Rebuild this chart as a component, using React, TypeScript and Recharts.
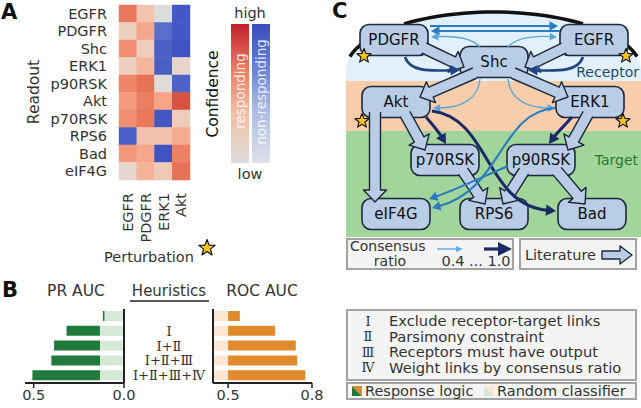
import React from "react";
import { ScatterChart, Scatter, XAxis, YAxis, BarChart, Bar, ReferenceArea } from "recharts";

const FONT = "DejaVu Sans, sans-serif";
const INK = "#333";

// ---------- A: confidence heatmap ----------
const readouts = ["EGFR", "PDGFR", "Shc", "ERK1", "p90RSK", "Akt", "p70RSK", "RPS6", "Bad", "eIF4G"];
const perturbations = ["EGFR", "PDGFR", "ERK1", "Akt"];
// signed confidence per perturbation: > 0 responding, < 0 non-responding
const egfrCol = [0.68, 0.18, 0.55, 0.18, 0.6, 0.48, 0.55, -0.88, 0.5, 0.1];
const pdgfrCol = [0.26, 0.42, 0.2, 0.34, 0.7, 0.64, 0.68, 0.28, 0.42, 0.36];
const erk1Col = [0, -0.8, -0.88, -0.88, 0.02, 0.44, -0.92, 0.28, -0.95, 0.22];
const aktCol = [-0.92, -0.92, -0.95, 0.12, -0.86, 0.86, 0.2, 0.4, 0.62, 0.7];
const columns = [egfrCol, pdgfrCol, erk1Col, aktCol];

// ---------- B: AUC bars ----------
const heuristics = ["", "Ⅰ", "Ⅰ+Ⅱ", "Ⅰ+Ⅱ+Ⅲ", "Ⅰ+Ⅱ+Ⅲ+Ⅳ"];
const prLogic = [0.117, 0.318, 0.387, 0.402, 0.507];
const prRandom = [0.108, 0.133, 0.133, 0.133, 0.133];
const rocLogic = [0.542, 0.668, 0.742, 0.747, 0.776];
const rocRandom = [0.5, 0.5, 0.5, 0.5, 0.5];
const rocFloor = 0.446;

// ---------- C: network ----------
const nodeNames = ["PDGFR", "EGFR", "Shc", "Akt", "ERK1", "p70RSK", "p90RSK", "eIF4G", "RPS6", "Bad"];
const nodeX = [394, 594, 494, 396, 590, 445, 541, 396, 494, 592];
const nodeY = [40, 40, 62, 102, 102, 160, 160, 214, 214, 214];
const starX = [364, 626, 362, 623];
const starY = [56, 56, 121, 121];
// literature links: tail -> tip
const litFrom = [[424, 48], [564, 48], [475, 73], [513, 73], [375, 112], [405, 114], [588, 114], [463, 171], [524, 171], [557, 171]];
const litTo = [[464, 67], [525, 67], [420, 97], [568, 97], [375, 202], [425, 150], [568, 150], [485, 204], [503, 204], [585, 204]];
// inferred links: tail, control1, control2, tip, consensus ratio
const consFrom = [[430, 26], [560, 31], [480, 47], [508, 47], [405, 57], [583, 57], [480, 79], [508, 79], [426, 117], [432, 111], [572, 117], [555, 108], [508, 166]];
const consC1 = [[470, 26], [520, 31], [470, 36], [518, 36], [410, 72], [578, 72], [478, 100], [510, 100], [432, 124], [490, 118], [566, 124], [500, 112], [480, 178]];
const consC2 = [[520, 26], [470, 31], [450, 36], [540, 36], [430, 71], [558, 71], [460, 108], [528, 108], [440, 134], [485, 205], [556, 134], [502, 190], [455, 190]];
const consTo = [[558, 26], [431, 31], [431, 37], [557, 37], [460, 70], [528, 70], [433, 108], [555, 108], [446, 144], [556, 211], [549, 144], [432, 208], [429, 199]];
const consRatio = [0.7, 0.7, 0.45, 0.45, 0.9, 0.9, 0.45, 0.45, 1.0, 1.0, 1.0, 0.7, 0.7];

const heurNums = ["Ⅰ", "Ⅱ", "Ⅲ", "Ⅳ"];
const heurText = ["Exclude receptor-target links", "Parsimony constraint", "Receptors must have output", "Weight links by consensus ratio"];

const NODE_FILL = "#b9cde6";
const NODE_STROKE = "#1d2939";

const hexRgb = (h: string) => [1, 3, 5].map((i) => parseInt(h.slice(i, i + 2), 16));
function ramp(stops: [number, string][], t: number) {
  for (let i = 1; i < stops.length; i++) {
    if (t <= stops[i][0]) {
      const [t0, c0] = stops[i - 1];
      const [t1, c1] = stops[i];
      const f = (t - t0) / (t1 - t0);
      const a = hexRgb(c0), b = hexRgb(c1);
      return `rgb(${a.map((v, k) => Math.round(v + (b[k] - v) * f)).join(",")})`;
    }
  }
  return stops[stops.length - 1][1];
}
const redStops: [number, string][] = [[0, "#dcdcdc"], [0.15, "#ead3c8"], [0.3, "#f3bea6"], [0.45, "#f6a185"], [0.6, "#ee8567"], [0.75, "#e26a51"], [0.9, "#d24a3c"], [1, "#c0282e"]];
const blueStops: [number, string][] = [[0, "#dcdcdc"], [0.4, "#b2bfe4"], [0.7, "#6d86d6"], [0.85, "#4d64c8"], [1, "#3a4bbf"]];
const heatColor = (v: number) => (v >= 0 ? ramp(redStops, v) : ramp(blueStops, -v));
const consStops: [number, string][] = [[0.4, "#62b0e0"], [0.7, "#2a7bbf"], [1, "#1b2a66"]];

const heatData = columns.flatMap((col, c) => col.map((v, r) => ({ col: c, row: r, v })));
const prData = heuristics.map((h, i) => ({ h, rand: [0, prRandom[i]], logic: [prRandom[i], prLogic[i]] }));
const rocData = heuristics.map((h, i) => ({ h, rand: [rocFloor, rocRandom[i]], logic: [rocRandom[i], rocLogic[i]] }));
const nodes = nodeNames.map((name, i) => ({ name, x: nodeX[i], y: nodeY[i] }));
const stars = starX.map((x, i) => ({ x, y: starY[i] }));
const litEdges = litFrom.map((f, i) => ({ x: f[0], y: f[1], tx: litTo[i][0], ty: litTo[i][1] }));
const consEdges = consFrom.map((f, i) => ({
  x: f[0], y: f[1], c1x: consC1[i][0], c1y: consC1[i][1], c2x: consC2[i][0], c2y: consC2[i][1],
  tx: consTo[i][0], ty: consTo[i][1], r: consRatio[i],
}));

const starPoints = (cx: number, cy: number, R = 7.5, r = 3.2) => {
  const pts: string[] = [];
  for (let i = 0; i < 10; i++) {
    const a = -Math.PI / 2 + (i * Math.PI) / 5;
    const rad = i % 2 === 0 ? R : r;
    pts.push(`${(cx + rad * Math.cos(a)).toFixed(1)},${(cy + rad * Math.sin(a)).toFixed(1)}`);
  }
  return pts.join(" ");
};

const HeatCell = (p: any) => (
  <rect x={p.cx - 9.1} y={p.cy - 9} width={18.2} height={18} fill={heatColor(p.payload.v)} />
);

const NodeBox = (p: any) => (
  <g>
    <rect x={p.cx - 34} y={p.cy - 15.5} width={68} height={31} rx={9} fill={NODE_FILL} stroke={NODE_STROKE} strokeWidth={1.6} />
    <text x={p.cx} y={p.cy} dy="0.36em" textAnchor="middle" fontSize={15} fontFamily={FONT} fill="#111">
      {p.payload.name}
    </text>
  </g>
);

const Star = (p: any) => (
  <polygon points={starPoints(p.cx, p.cy)} fill="#f7c51b" stroke="#111" strokeWidth={1.1} strokeLinejoin="round" />
);

// axes are 1 px per unit, so data offsets are pixel offsets
function FatArrow(p: any) {
  const d = p.payload;
  const x0 = p.cx, y0 = p.cy;
  const x1 = x0 + (d.tx - d.x), y1 = y0 + (d.ty - d.y);
  const L = Math.hypot(x1 - x0, y1 - y0);
  const ux = (x1 - x0) / L, uy = (y1 - y0) / L;
  const nx = -uy, ny = ux;
  const sw = 5.5, hw = 11.5, hl = 12;
  const bx = x1 - ux * hl, by = y1 - uy * hl;
  const pt = (x: number, y: number) => `${x.toFixed(1)},${y.toFixed(1)}`;
  const pts = [
    pt(x0 + nx * sw, y0 + ny * sw), pt(bx + nx * sw, by + ny * sw), pt(bx + nx * hw, by + ny * hw), pt(x1, y1),
    pt(bx - nx * hw, by - ny * hw), pt(bx - nx * sw, by - ny * sw), pt(x0 - nx * sw, y0 - ny * sw),
  ].join(" ");
  return (
    <g>
      <polygon points={pts} fill={NODE_FILL} stroke="none" />
      <polyline points={pts} fill="none" stroke={NODE_STROKE} strokeWidth={1.4} strokeLinejoin="round" />
    </g>
  );
}

function ThinArrow(p: any) {
  const d = p.payload;
  const ox = p.cx - d.x, oy = p.cy - d.y;
  const color = ramp(consStops, d.r);
  const w = 1.2 + (d.r - 0.4) * 3;
  const hl = 5 + d.r * 5, hw = 2.6 + d.r * 3;
  const tx = d.tx + ox, ty = d.ty + oy;
  const c2x = d.c2x + ox, c2y = d.c2y + oy;
  const L = Math.hypot(tx - c2x, ty - c2y);
  const ux = (tx - c2x) / L, uy = (ty - c2y) / L;
  const ex = tx - ux * hl * 0.8, ey = ty - uy * hl * 0.8;
  const bx = tx - ux * hl, by = ty - uy * hl;
  return (
    <g>
      <path d={`M${p.cx},${p.cy} C${d.c1x + ox},${d.c1y + oy} ${c2x},${c2y} ${ex},${ey}`} fill="none" stroke={color} strokeWidth={w} />
      <polygon points={`${tx},${ty} ${bx - uy * hw},${by + ux * hw} ${bx + uy * hw},${by - ux * hw}`} fill={color} />
    </g>
  );
}

// receptor zone: half ellipse, black rim shown only where the nodes leave it visible
function Dome(p: any) {
  const { x, y, width, height } = p;
  const rx = width / 2, ry = height - 11;
  const cx = x + rx, cy = y + ry;
  const rim = (a: number, b: number) => {
    const pts: string[] = [];
    for (let k = 0; k <= 24; k++) {
      const px = a + ((b - a) * k) / 24;
      const py = cy - ry * Math.sqrt(Math.max(0, 1 - ((px - cx) / rx) ** 2));
      pts.push(`${px.toFixed(1)},${py.toFixed(1)}`);
    }
    return pts.join(" ");
  };
  return (
    <g>
      <path d={`M${x},${y + height} L${x},${cy} A${rx},${ry} 0 0 1 ${x + width},${cy} L${x + width},${y + height} Z`} fill="#e2f0fa" />
      <polyline points={rim(x + 58, x + width - 58)} fill="none" stroke="#111" strokeWidth={3.5} />
      <polyline points={rim(x + 4, x + 15)} fill="none" stroke="#111" strokeWidth={3.5} />
      <polyline points={rim(x + width - 15, x + width - 4)} fill="none" stroke="#111" strokeWidth={3.5} />
    </g>
  );
}

const RowTick = (p: any) => (
  <text x={p.x} y={p.y} dy="0.36em" textAnchor="end" fontSize={14.5} fontFamily={FONT} fill={INK}>
    {readouts[p.payload.value]}
  </text>
);
const ColTick = (p: any) => (
  <text x={p.x} y={p.y} dy="0.36em" textAnchor="end" transform={`rotate(-90 ${p.x} ${p.y})`} fontSize={14.5} fontFamily={FONT} fill={INK}>
    {perturbations[p.payload.value]}
  </text>
);
const HeurTick = (p: any) => (
  <text x={p.x - 44} y={p.y} dy="0.36em" textAnchor="middle" fontSize={13} fontFamily="DejaVu Serif, serif" fill={INK}>
    {p.payload.value}
  </text>
);

const axisLine = { stroke: "#222", strokeWidth: 2 };
const tickStyle = { fontSize: 14.5, fill: INK, fontFamily: FONT };

function FatIcon({ x, y }: { x: number; y: number }) {
  const pts = `${x},${y - 4} ${x + 18},${y - 4} ${x + 18},${y - 9} ${x + 30},${y} ${x + 18},${y + 9} ${x + 18},${y + 4} ${x},${y + 4}`;
  return <polygon points={pts} fill={NODE_FILL} stroke={NODE_STROKE} strokeWidth={1.4} strokeLinejoin="round" />;
}

export default function App() {
  return (
    <div style={{ position: "absolute", left: 0, top: 0, width: 641, height: 408, background: "#fff", fontFamily: FONT }}>
      <div style={{ position: "absolute", left: 0, top: 0 }}>
        <ScatterChart width={280} height={250} margin={{ top: 5, right: 90, bottom: 0, left: 0 }}>
          <XAxis type="number" dataKey="col" domain={[-0.5, 3.5]} ticks={[0, 1, 2, 3]} interval={0} axisLine={false} tickLine={false} tickSize={0} tickMargin={13} height={70} tick={ColTick} />
          <YAxis type="number" dataKey="row" domain={[-0.5, 9.5]} reversed ticks={[0, 1, 2, 3, 4, 5, 6, 7, 8, 9]} interval={0} axisLine={false} tickLine={false} tickSize={0} tickMargin={12} width={119} tick={RowTick} />
          <Scatter data={heatData} shape={HeatCell} isAnimationActive={false} />
        </ScatterChart>
      </div>

      <div style={{ position: "absolute", left: 0, top: 300 }}>
        <BarChart layout="vertical" width={140} height={108} data={prData} margin={{ top: 9, right: 15, bottom: 0, left: 25 }} barSize={10} barGap={-10}>
          <XAxis type="number" domain={[0, 0.548]} reversed ticks={[0, 0.5]} tickFormatter={(v: number) => v.toFixed(1)} height={25} tickSize={5} tickMargin={2} axisLine={axisLine} tickLine={{ stroke: "#222", strokeWidth: 1.5 }} tick={tickStyle} interval={0} />
          <YAxis type="category" dataKey="h" orientation="right" width={1} tick={false} tickLine={false} axisLine={axisLine} />
          <Bar dataKey="rand" fill="#d4e9d6" isAnimationActive={false} />
          <Bar dataKey="logic" fill="#1f7a3b" isAnimationActive={false} />
        </BarChart>
      </div>

      <div style={{ position: "absolute", left: 130, top: 300 }}>
        <BarChart layout="vertical" width={198} height={108} data={rocData} margin={{ top: 9, right: 16, bottom: 0, left: 0 }} barSize={10} barGap={-10}>
          <XAxis type="number" domain={[rocFloor, 0.8]} ticks={[0.5, 0.8]} tickFormatter={(v: number) => v.toFixed(1)} height={25} tickSize={5} tickMargin={2} axisLine={axisLine} tickLine={{ stroke: "#222", strokeWidth: 1.5 }} tick={tickStyle} interval={0} />
          <YAxis type="category" dataKey="h" width={83} tickLine={false} tickSize={0} tickMargin={0} axisLine={axisLine} tick={HeurTick} interval={0} />
          <Bar dataKey="rand" fill="#fde6d2" isAnimationActive={false} />
          <Bar dataKey="logic" fill="#e08a2c" isAnimationActive={false} />
        </BarChart>
      </div>

      <div style={{ position: "absolute", left: 335, top: 0 }}>
        <ScatterChart width={306} height={280} margin={{ top: 0, right: 0, bottom: 0, left: 0 }}>
          <XAxis type="number" dataKey="x" domain={[335, 641]} hide />
          <YAxis type="number" dataKey="y" domain={[0, 280]} reversed hide />
          <ReferenceArea x1={346} x2={641} y1={131} y2={237} fill="#a1d59c" fillOpacity={1} stroke="none" />
          <ReferenceArea x1={346} x2={641} y1={81} y2={131} fill="#f8cdab" fillOpacity={1} stroke="none" />
          <ReferenceArea x1={346} x2={641} y1={12} y2={81} shape={Dome} />
          <Scatter data={nodes} shape={NodeBox} isAnimationActive={false} />
          <Scatter data={litEdges} shape={FatArrow} isAnimationActive={false} />
          <Scatter data={consEdges} shape={ThinArrow} isAnimationActive={false} />
          <Scatter data={stars} shape={Star} isAnimationActive={false} />
        </ScatterChart>
      </div>

      <svg width={641} height={408} style={{ position: "absolute", left: 0, top: 0, pointerEvents: "none" }} fontFamily={FONT}>
        <defs>
          <linearGradient id="gRed" x1="0" y1="1" x2="0" y2="0">
            <stop offset="0" stopColor="#dcdcdc" />
            <stop offset="0.35" stopColor="#f3bfa6" />
            <stop offset="0.7" stopColor="#e8775c" />
            <stop offset="1" stopColor="#c01f2b" />
          </linearGradient>
          <linearGradient id="gBlue" x1="0" y1="1" x2="0" y2="0">
            <stop offset="0" stopColor="#dfe2ea" />
            <stop offset="0.4" stopColor="#a9b9e6" />
            <stop offset="0.75" stopColor="#5d75cd" />
            <stop offset="1" stopColor="#3a4bbf" />
          </linearGradient>
        </defs>

        {/* A */}
        <text x={1} y={19} fontSize={21} fontWeight="bold" fill="#111">A</text>
        <text x={33} y={92} dy="0.36em" textAnchor="middle" transform="rotate(-90 33 92)" fontSize={15.5} fill={INK}>Readout</text>
        <text x={149} y={262} textAnchor="middle" fontSize={14.5} fill={INK}>Perturbation</text>
        <polygon points={starPoints(207, 248, 8.5, 3.6)} fill="#f7c51b" stroke="#111" strokeWidth={1.2} strokeLinejoin="round" />
        <rect x={231} y={24} width={18} height={139} fill="url(#gRed)" />
        <rect x={252} y={24} width={18} height={139} fill="url(#gBlue)" />
        <text x={250} y={18} textAnchor="middle" fontSize={14.5} fill={INK}>high</text>
        <text x={250} y={179} textAnchor="middle" fontSize={14.5} fill={INK}>low</text>
        <text x={212} y={94} dy="0.36em" textAnchor="middle" transform="rotate(-90 212 94)" fontSize={15.5} fill="#111">Confidence</text>
        <text x={240} y={91} dy="0.36em" textAnchor="middle" transform="rotate(-90 240 91)" fontSize={13.5} fill="#fff" fillOpacity={0.85}>responding</text>
        <text x={261} y={92} dy="0.36em" textAnchor="middle" transform="rotate(-90 261 92)" fontSize={13.5} fill="#fff" fillOpacity={0.85}>non-responding</text>

        {/* B */}
        <text x={2} y={297} fontSize={21} fontWeight="bold" fill="#111">B</text>
        <text x={76} y={296} textAnchor="middle" fontSize={15.5} fill={INK}>PR AUC</text>
        <text x={169} y={296} textAnchor="middle" fontSize={15} fill={INK}>Heuristics</text>
        <line x1={130} x2={209} y1={301} y2={301} stroke="#222" strokeWidth={1.5} />
        <text x={262} y={296} textAnchor="middle" fontSize={15.5} fill={INK}>ROC AUC</text>

        {/* C */}
        <text x={332} y={18} fontSize={21} fontWeight="bold" fill="#111">C</text>
        <text x={639} y={77} textAnchor="end" fontSize={14} fill="#1b4b75">Receptor</text>
        <text x={638} y={165} textAnchor="end" fontSize={14} fill="#2a7a2a">Target</text>

        <rect x={347} y={239} width={166} height={30} fill="#f4f4f4" stroke="#a3a3a3" strokeWidth={2} />
        <text x={350} y={251} fontSize={14} fill={INK}>Consensus</text>
        <text x={390} y={266} textAnchor="middle" fontSize={14} fill={INK}>ratio</text>
        <line x1={437} x2={457} y1={249} y2={249} stroke="#62b0e0" strokeWidth={1.5} />
        <polygon points="463,249 456,246 456,252" fill="#62b0e0" />
        <line x1={484} x2={500} y1={249} y2={249} stroke="#1b2a66" strokeWidth={3.2} />
        <polygon points="512,249 498,242 498,256" fill="#1b2a66" />
        <text x={476} y={266} textAnchor="middle" fontSize={14.5} fill={INK}>0.4 ... 1.0</text>
        <rect x={520} y={239} width={116} height={30} fill="#f4f4f4" stroke="#a3a3a3" strokeWidth={2} />
        <text x={525} y={260} fontSize={14.5} fill={INK}>Literature</text>
        <FatIcon x={602} y={255} />

        <rect x={347} y={310} width={289} height={70} fill="#f4f4f4" stroke="#a3a3a3" strokeWidth={2} />
        {heurText.map((t, i) => (
          <g key={t}>
            <text x={368} y={321 + i * 15.5} dy="0.36em" textAnchor="middle" fontSize={13} fontFamily="DejaVu Serif, serif" fill={INK}>{heurNums[i]}</text>
            <text x={389} y={321 + i * 15.5} dy="0.36em" fontSize={14.7} fill={INK}>{t}</text>
          </g>
        ))}
        <rect x={347} y={383} width={289} height={16} fill="#f4f4f4" stroke="#a3a3a3" strokeWidth={2} />
        <polygon points="352,386 352,396 362,396" fill="#1f7a3b" />
        <polygon points="352,386 362,386 362,396" fill="#e08a2c" />
        <text x={365} y={391} dy="0.36em" fontSize={14.5} fill={INK}>Response logic</text>
        <polygon points="484,386 484,396 494,396" fill="#d4e9d6" />
        <polygon points="484,386 494,386 494,396" fill="#fde6d2" />
        <text x={497} y={391} dy="0.36em" fontSize={14.5} fill={INK}>Random classifier</text>
      </svg>
    </div>
  );
}
